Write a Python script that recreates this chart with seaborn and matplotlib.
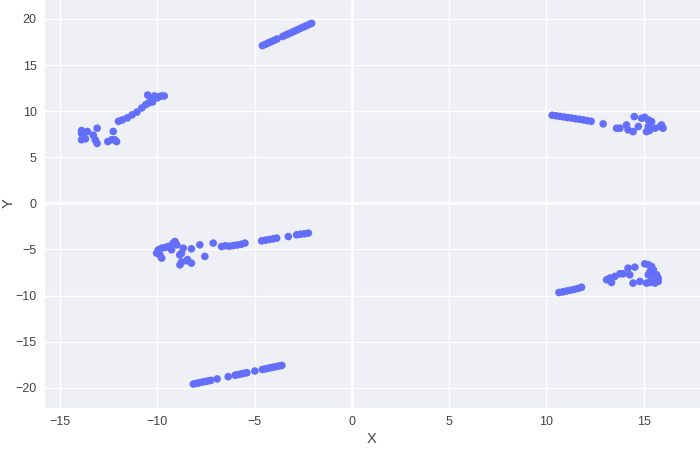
import numpy as np
import pandas as pd
import matplotlib
matplotlib.use("Agg")
import matplotlib.pyplot as plt
import seaborn as sns

# Cluster A (upper left)
a_x = [-13.9, -13.9, -13.8, -13.9, -13.7, -13.6, -13.3, -13.2, -13.1, -13.1,
       -12.55, -12.35, -12.2, -12.1, -12.27,
       -12.0, -11.8, -11.55, -11.3, -11.05, -10.8, -10.6, -10.45, -10.3, -10.15,
       -10.5, -9.95, -9.8, -9.65, -10.0, -10.25]
a_y = [7.9, 7.6, 7.2, 6.9, 7.0, 7.8, 7.4, 6.9, 6.5, 8.15,
       6.7, 6.9, 6.9, 6.7, 7.8,
       8.9, 9.05, 9.27, 9.6, 9.9, 10.35, 10.7, 10.9, 11.2, 11.65,
       11.75, 11.55, 11.65, 11.65, 11.45, 11.0]

# Cluster B (upper middle line)
b_x = [-4.6, -4.45, -4.3, -4.15, -4.0, -3.85,
       -3.55, -3.4, -3.25, -3.1, -2.95, -2.8, -2.65, -2.5, -2.35, -2.2, -2.07]
b_y = [17.11, 17.25, 17.4, 17.54, 17.68, 17.83,
       18.11, 18.26, 18.4, 18.54, 18.69, 18.83, 18.98, 19.12, 19.26, 19.41, 19.53]

# Cluster C (bottom line)
c_x = [-8.15, -8.0, -7.85, -7.7, -7.55, -7.4, -7.25, -6.93, -6.36,
       -6.0, -5.85, -5.7, -5.55, -5.4, -4.99,
       -4.6, -4.45, -4.3, -4.15, -4.0, -3.85, -3.7, -3.6]
c_y = [-19.6, -19.53, -19.46, -19.39, -19.33, -19.26, -19.2, -19.05, -18.8,
       -18.64, -18.57, -18.51, -18.44, -18.37, -18.19,
       -18.02, -17.96, -17.89, -17.82, -17.75, -17.69, -17.62, -17.58]

# Cluster D (middle left)
d_x = [-10.04, -9.95, -9.78, -9.78, -9.6, -9.44, -9.27, -9.19, -9.1, -9.0, -9.87,
       -8.67, -8.76, -8.85, -8.25, -7.82, -7.13, -7.56,
       -8.84, -8.76, -8.5, -8.25, -8.45,
       -6.7, -6.5, -6.3, -6.1, -5.9, -5.7, -5.5,
       -4.64, -4.45, -4.25, -4.05, -3.87, -3.27,
       -2.84, -2.65, -2.45, -2.24]
d_y = [-5.4, -5.04, -4.86, -5.94, -4.79, -4.68, -5.04, -4.31, -4.14, -4.5, -5.6,
       -4.86, -5.4, -5.6, -4.93, -4.5, -4.31, -5.76,
       -6.67, -6.38, -6.23, -6.49, -6.1,
       -4.68, -4.6, -4.65, -4.58, -4.52, -4.45, -4.31,
       -4.07, -4.0, -3.92, -3.85, -3.77, -3.6,
       -3.41, -3.35, -3.3, -3.23]

# Cluster E (right upper)
e_x = [10.3, 10.5, 10.7, 10.9, 11.1, 11.3, 11.5, 11.7, 11.9, 12.1, 12.3,
       12.92, 13.61, 13.78, 14.12, 14.2, 14.46, 14.52, 14.73,
       14.9, 15.06, 15.24, 15.41, 15.15, 15.3, 15.58, 15.84, 15.92, 16.0, 15.24]
e_y = [9.55, 9.5, 9.43, 9.37, 9.3, 9.25, 9.18, 9.12, 9.05, 8.97, 8.9,
       8.62, 8.15, 8.15, 8.5, 7.97, 7.78, 9.41, 8.33,
       9.23, 9.34, 9.05, 8.87, 7.78, 7.9, 8.15, 8.33, 8.5, 8.15, 8.33]

# Cluster F (right lower)
f_x = [10.65, 10.85, 11.05, 11.25, 11.45, 11.65, 11.81,
       13.1, 13.27, 13.35, 13.52, 13.78, 13.95, 14.2, 14.29, 14.55, 14.46, 14.81,
       15.06, 15.24, 15.41, 15.5, 15.24, 15.41, 15.67, 15.75, 15.15, 15.32, 15.58,
       15.75, 15.33]
f_y = [-9.67, -9.6, -9.5, -9.42, -9.32, -9.22, -9.1,
       -8.29, -8.1, -8.58, -7.93, -7.64, -7.64, -7.03, -7.75, -6.92, -8.65, -8.47,
       -6.56, -6.65, -6.85, -7.2, -7.75, -7.93, -7.75, -8.1, -8.65, -8.58, -8.65,
       -8.47, -7.4]

xs = a_x + b_x + c_x + d_x + e_x + f_x
ys = a_y + b_y + c_y + d_y + e_y + f_y
df = pd.DataFrame({"X": xs, "Y": ys})

x_ticks = [-15, -10, -5, 0, 5, 10, 15]
y_ticks = [-20, -15, -10, -5, 0, 5, 10, 15, 20]

sns.set_theme(style="darkgrid")
plt.rcParams["font.family"] = ["Liberation Sans", "DejaVu Sans"]

text_color = "#444444"
fig = plt.figure(figsize=(7, 4.5), dpi=100)
ax = fig.add_axes([45/700, 42/450, 655/700, 408/450])
ax.set_facecolor("#EEF0F5")
sns.scatterplot(data=df, x="X", y="Y", ax=ax, color="#636EFA", s=30,
                edgecolor="none", linewidth=0, zorder=3)
ax.set_xlim(-15.78, 17.9)
ax.set_ylim(-22.2, 22.06)
ax.set_xticks(x_ticks)
ax.set_yticks(y_ticks)
ax.grid(True, color="white", linewidth=1)
ax.axvline(0, color="white", linewidth=2, zorder=1)
ax.axhline(0, color="white", linewidth=2, zorder=1)
for s in ax.spines.values():
    s.set_visible(False)
ax.tick_params(length=0, labelsize=9, colors=text_color, pad=6)
ax.set_xlabel("X", fontsize=10.5, color=text_color)
ax.set_ylabel("Y", fontsize=10.5, color=text_color)
ax.xaxis.set_label_coords((372 - 45) / 655, -(432 - 408) / 408)
ax.yaxis.set_label_coords(-(45 - 16) / 655, (408 - 203) / 408)
fig.savefig("out.png", dpi=100)
